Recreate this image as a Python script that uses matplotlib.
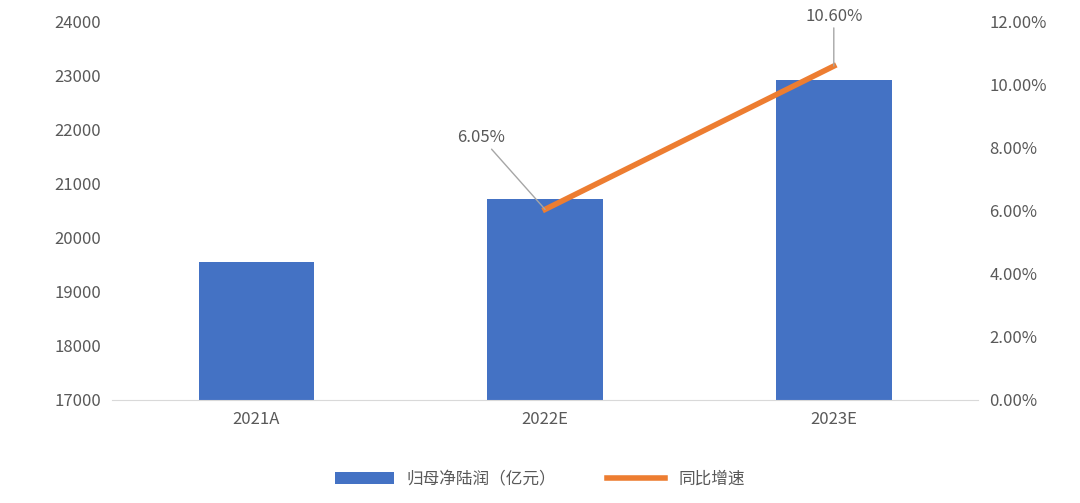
import matplotlib
matplotlib.use('Agg')
import matplotlib.pyplot as plt

plt.rcParams['font.family'] = ['Noto Sans CJK SC', 'DejaVu Sans']

categories = ['2021A', '2022E', '2023E']
profit = [19550, 20720, 22920]
growth_cats = ['2022E', '2023E']
growth = [6.05, 10.60]

text_color = '#595959'
fig = plt.figure(figsize=(10.8, 5.03), dpi=100)
ax = fig.add_axes([0.1037, 0.2048, 0.802, 0.7515])
x = list(range(len(categories)))
ax.bar(x, [p - 17000 for p in profit], bottom=17000, width=0.4, color='#4472C4',
       label='归母净陆润（亿元）', zorder=2)
ax.set_ylim(17000, 24000)
ax.set_xlim(-0.5, 2.5)
ax.set_yticks(range(17000, 24001, 1000))
ax.set_xticks(x)
ax.set_xticklabels(categories)
for s in ['top', 'right', 'left']:
    ax.spines[s].set_visible(False)
ax.spines['bottom'].set_color('#D9D9D9')
ax.tick_params(axis='both', length=0, labelsize=12, colors=text_color, pad=8)

ax2 = ax.twinx()
gx = [categories.index(c) for c in growth_cats]
ax2.plot(gx, growth, color='#ED7D31', lw=4, label='同比增速', zorder=3)
ax2.set_ylim(0, 12)
ax2.set_yticks(range(0, 13, 2))
ax2.set_yticklabels([f'{v:.2f}%' for v in range(0, 13, 2)])
for s in ['top', 'right', 'left', 'bottom']:
    ax2.spines[s].set_visible(False)
ax2.tick_params(axis='y', length=0, labelsize=12, colors=text_color, pad=8)

offsets = [(-0.22, 2.0), (0.0, 1.3)]
for xi, v, (dx, dy) in zip(gx, growth, offsets):
    ax2.annotate(f'{v:.2f}%', xy=(xi, v), xytext=(xi + dx, v + dy),
                 ha='center', va='bottom', fontsize=12, color=text_color,
                 arrowprops=dict(arrowstyle='-', color='#A6A6A6', lw=1,
                                 shrinkA=0, shrinkB=0))

h1, l1 = ax.get_legend_handles_labels()
h2, l2 = ax2.get_legend_handles_labels()
fig.legend(h1 + h2, l1 + l2, loc='lower center', bbox_to_anchor=(0.5, 0.0),
           ncol=2, frameon=False, fontsize=12, labelcolor=text_color,
           handlelength=3.5, columnspacing=3)
fig.savefig('out.png', dpi=100)
